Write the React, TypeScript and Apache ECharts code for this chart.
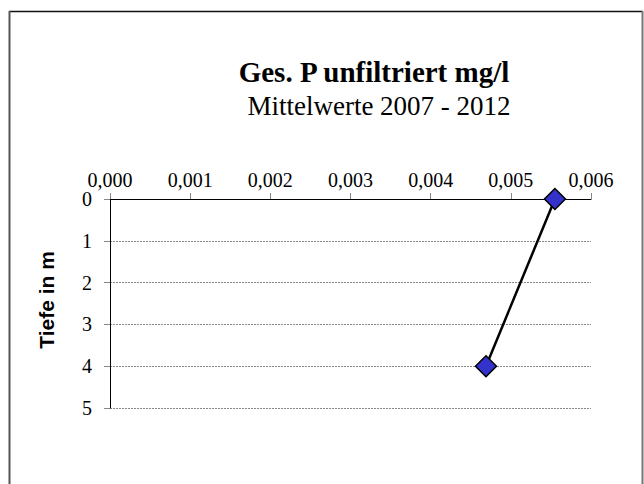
import React, { useEffect, useRef } from "react";
import * as echarts from "echarts";

const TITLE = "Ges. P unfiltriert mg/l";
const SUBTITLE = "Mittelwerte 2007 - 2012";
const Y_NAME = "Tiefe in m";
const depths = [0, 4];
const values = [0.00555, 0.00469];
const X_MIN = 0;
const X_MAX = 0.006;
const X_STEP = 0.001;
const Y_MIN = 0;
const Y_MAX = 5;
const Y_STEP = 1;

export default function App() {
  const ref = useRef<HTMLDivElement>(null);
  useEffect(() => {
    document.body.style.margin = "0";
    const chart = echarts.init(ref.current!, undefined, { renderer: "svg" });
    const serif = "'Liberation Serif', 'Times New Roman', serif";
    chart.setOption({
      animation: false,
      backgroundColor: "#ffffff",
      grid: { left: 110, right: 53, top: 199, bottom: 76, containLabel: false },
      xAxis: {
        type: "value",
        position: "top",
        min: X_MIN,
        max: X_MAX,
        interval: X_STEP,
        axisLine: { show: true, lineStyle: { color: "#000", width: 1 } },
        axisTick: { show: true, inside: false, length: 6, lineStyle: { color: "#888", width: 1 } },
        axisLabel: {
          fontFamily: serif,
          fontSize: 20,
          color: "#000",
          margin: 9,
          formatter: (v: number) => v.toFixed(3).replace(".", ","),
        },
        splitLine: { show: false },
      },
      yAxis: {
        type: "value",
        inverse: true,
        min: Y_MIN,
        max: Y_MAX,
        interval: Y_STEP,
        axisLine: { show: true, lineStyle: { color: "#000", width: 1 } },
        axisTick: { show: true, inside: false, length: 6, lineStyle: { color: "#888", width: 1 } },
        axisLabel: { fontFamily: serif, fontSize: 20, color: "#000", margin: 18 },
        splitLine: { show: true, lineStyle: { color: "#888", type: [2, 1], width: 1 } },
      },
      series: [
        {
          type: "line",
          data: values.map((v, i) => [v, depths[i]]),
          lineStyle: { color: "#000", width: 2.5 },
          symbol: "diamond",
          symbolSize: 21,
          itemStyle: { color: "#3333CC", borderColor: "#000", borderWidth: 1.5 },
          z: 3,
        },
      ],
      graphic: [
        { type: "line", shape: { x1: 9, y1: 11.5, x2: 643, y2: 11.5 }, style: { stroke: "#111", lineWidth: 1.5 } },
        { type: "line", shape: { x1: 9.5, y1: 11, x2: 9.5, y2: 484 }, style: { stroke: "#555", lineWidth: 2 } },
        { type: "line", shape: { x1: 642.5, y1: 11, x2: 642.5, y2: 484 }, style: { stroke: "#777", lineWidth: 2 } },
        {
          type: "text",
          x: 374,
          y: 72,
          style: { text: TITLE, fontFamily: serif, fontWeight: "bold", fontSize: 29, fill: "#000", textAlign: "center", textVerticalAlign: "middle" },
        },
        {
          type: "text",
          x: 379,
          y: 106,
          style: { text: SUBTITLE, fontFamily: serif, fontSize: 27, fill: "#000", textAlign: "center", textVerticalAlign: "middle" },
        },
        {
          type: "text",
          x: 46,
          y: 300,
          rotation: Math.PI / 2,
          style: { text: Y_NAME, fontFamily: "'Liberation Sans', Arial, sans-serif", fontWeight: "bold", fontSize: 21, fill: "#000", textAlign: "center", textVerticalAlign: "middle" },
        },
      ],
    });
    return () => chart.dispose();
  }, []);
  return <div ref={ref} style={{ width: 644, height: 484 }} />;
}
